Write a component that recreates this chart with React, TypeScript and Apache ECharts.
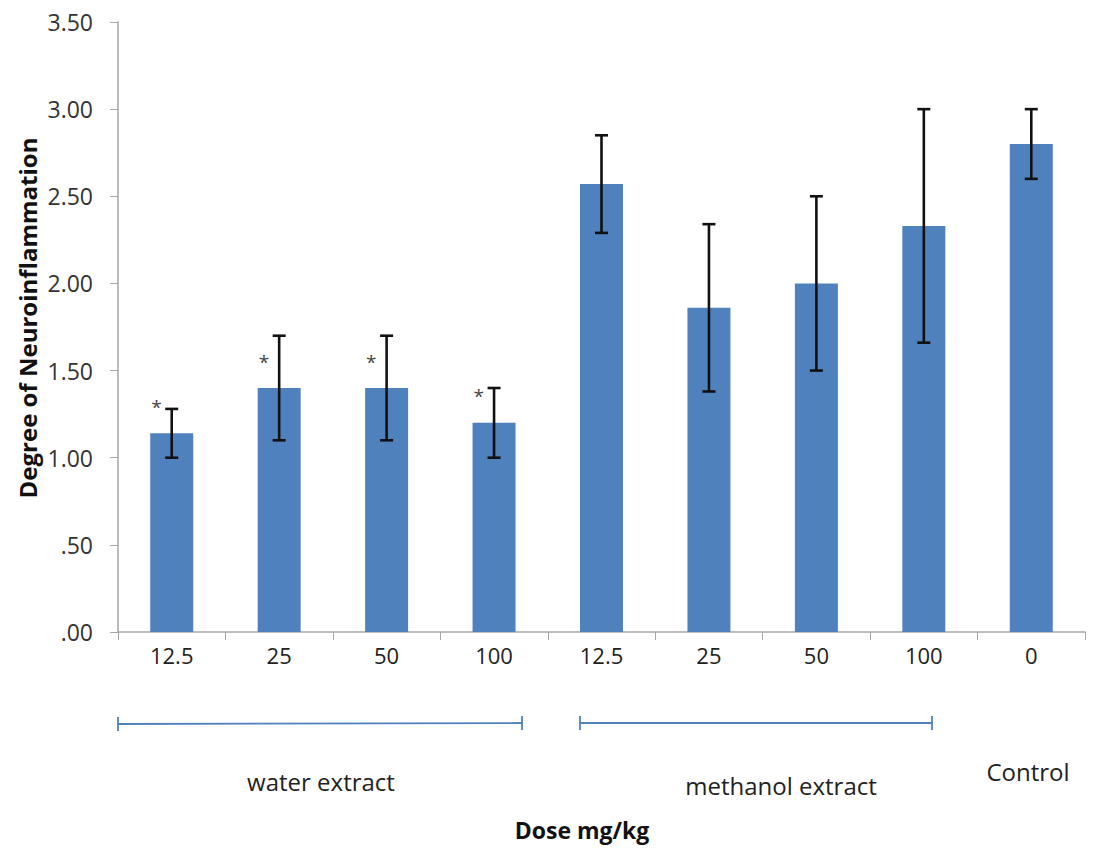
import React, { useEffect, useRef } from "react";
import * as echarts from "echarts";

const categories = ["12.5", "25", "50", "100", "12.5", "25", "50", "100", "0"];
const means = [1.14, 1.4, 1.4, 1.2, 2.57, 1.86, 2.0, 2.33, 2.8];
const errors = [0.14, 0.3, 0.3, 0.2, 0.28, 0.48, 0.5, 0.67, 0.2];
const significant = [true, true, true, true, false, false, false, false, false];
const yTicks = [0, 0.5, 1, 1.5, 2, 2.5, 3, 3.5];

const FONT = "'Open Sans', sans-serif";

export default function App() {
  const ref = useRef<HTMLDivElement>(null);
  useEffect(() => {
    if (!ref.current) return;
    const chart = echarts.init(ref.current, undefined, { renderer: "svg" });
    const errData = means.map((m, i) => [i, m - errors[i], m + errors[i]]);
    const blue = { stroke: "#4f81bd", lineWidth: 1.8 };
    chart.setOption({
      animation: false,
      grid: { left: 118, right: 12, top: 22, bottom: 216 },
      xAxis: {
        type: "category",
        data: categories,
        axisLine: { lineStyle: { color: "#a6a6a6", width: 1.5 } },
        axisTick: { show: true, length: 8, lineStyle: { color: "#a6a6a6" } },
        axisLabel: { color: "#222", fontSize: 22, fontFamily: FONT, margin: 12 },
      },
      yAxis: {
        type: "value",
        min: yTicks[0],
        max: yTicks[yTicks.length - 1],
        interval: 0.5,
        splitLine: { show: false },
        axisLine: { show: true, lineStyle: { color: "#a6a6a6", width: 1.5 } },
        axisTick: { show: true, length: 8, lineStyle: { color: "#a6a6a6" } },
        axisLabel: {
          color: "#333",
          fontSize: 23,
          fontFamily: FONT,
          margin: 25,
          formatter: (v: number) => {
            const s = v.toFixed(2);
            return s.startsWith("0") ? s.slice(1) : s;
          },
        },
      },
      series: [
        {
          type: "bar",
          data: means,
          barWidth: "40%",
          itemStyle: { color: "#4f81bd" },
          label: {
            show: true,
            position: [1, -36],
            fontSize: 19,
            color: "#444",
            fontFamily: FONT,
            formatter: (p: any) => (significant[p.dataIndex] ? "*" : ""),
          },
        },
        {
          type: "custom",
          data: errData,
          z: 10,
          renderItem: (params: any, api: any) => {
            const x = api.value(0);
            const lo = api.coord([x, api.value(1)]);
            const hi = api.coord([x, api.value(2)]);
            const hw = 6.5;
            const style = { stroke: "#111", lineWidth: 2.6 };
            return {
              type: "group",
              children: [
                { type: "line", shape: { x1: lo[0], y1: lo[1], x2: hi[0], y2: hi[1] }, style },
                { type: "line", shape: { x1: lo[0] - hw, y1: lo[1], x2: lo[0] + hw, y2: lo[1] }, style },
                { type: "line", shape: { x1: hi[0] - hw, y1: hi[1], x2: hi[0] + hw, y2: hi[1] }, style },
              ],
            };
          },
        },
      ],
      graphic: [
        { type: "line", shape: { x1: 118, y1: 724, x2: 522, y2: 723 }, style: blue },
        { type: "line", shape: { x1: 118, y1: 717, x2: 118, y2: 731 }, style: blue },
        { type: "line", shape: { x1: 522, y1: 716, x2: 522, y2: 730 }, style: blue },
        { type: "line", shape: { x1: 580, y1: 723, x2: 932, y2: 723 }, style: blue },
        { type: "line", shape: { x1: 580, y1: 716, x2: 580, y2: 730 }, style: blue },
        { type: "line", shape: { x1: 932, y1: 716, x2: 932, y2: 730 }, style: blue },
        { type: "text", x: 321, y: 781, style: { text: "water extract", fontSize: 24, fontFamily: FONT, fill: "#222", textAlign: "center", textVerticalAlign: "middle" } },
        { type: "text", x: 781, y: 785, style: { text: "methanol extract", fontSize: 24, fontFamily: FONT, fill: "#222", textAlign: "center", textVerticalAlign: "middle" } },
        { type: "text", x: 1028, y: 771, style: { text: "Control", fontSize: 24, fontFamily: FONT, fill: "#222", textAlign: "center", textVerticalAlign: "middle" } },
        { type: "text", x: 582, y: 830, style: { text: "Dose mg/kg", fontSize: 23, fontWeight: "bold", fontFamily: FONT, fill: "#111", textAlign: "center", textVerticalAlign: "middle" } },
        { type: "text", x: 27, y: 318, rotation: Math.PI / 2, style: { text: "Degree of Neuroinflammation", fontSize: 24, fontWeight: "bold", fontFamily: FONT, fill: "#111", textAlign: "center", textVerticalAlign: "middle" } },
      ],
    });
    return () => chart.dispose();
  }, []);
  return <div ref={ref} style={{ width: 1097, height: 848, position: "absolute", left: 0, top: 0 }} />;
}
